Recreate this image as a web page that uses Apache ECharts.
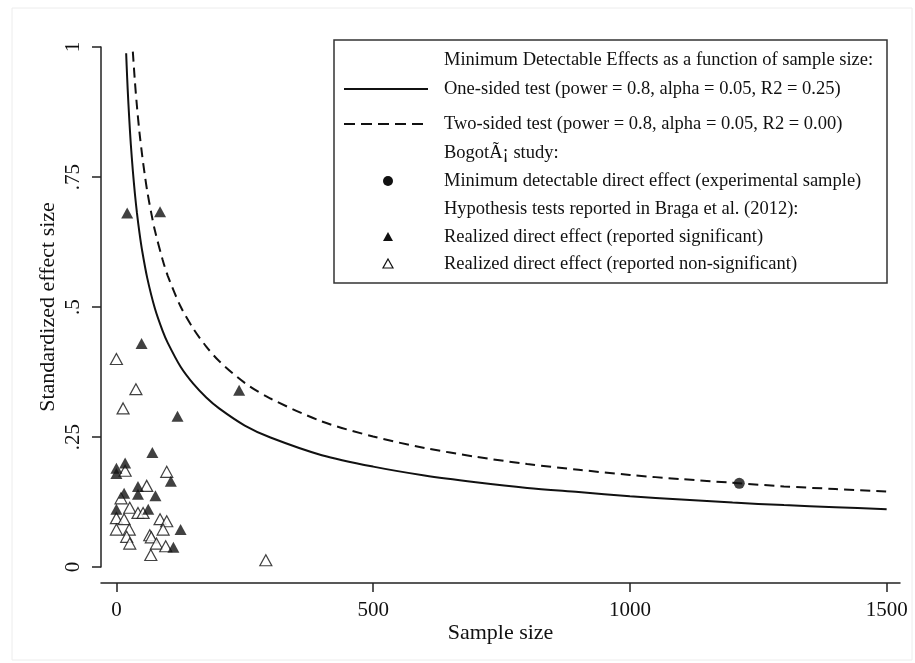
<!DOCTYPE html>
<html>
<head>
<meta charset="utf-8">
<script src="https://cdn.jsdelivr.net/npm/echarts@6/dist/echarts.min.js"></script>
<style>
  html, body { margin: 0; padding: 0; background: #fff; }
  #chart { width: 915px; height: 663px; }
</style>
</head>
<body>
<div id="chart"></div>
<script>
// MDE curves (sample size -> standardized effect)
const oneSidedN = [19, 20, 22, 25, 28, 32, 36, 40, 45, 50, 60, 75, 90, 100, 125, 150, 175, 200, 250, 300, 400, 500, 600, 700, 800, 900, 1000, 1100, 1200, 1300, 1400, 1500];
const oneSidedMde = [0.988, 0.963, 0.918, 0.862, 0.814, 0.762, 0.718, 0.681, 0.642, 0.609, 0.556, 0.497, 0.454, 0.431, 0.385, 0.352, 0.326, 0.305, 0.272, 0.249, 0.215, 0.193, 0.176, 0.163, 0.152, 0.144, 0.136, 0.130, 0.124, 0.119, 0.115, 0.111];
const twoSidedN = [32, 36, 40, 45, 50, 55, 60, 68, 75, 90, 100, 125, 150, 175, 200, 250, 300, 400, 500, 600, 700, 800, 900, 1000, 1100, 1200, 1300, 1400, 1500];
const twoSidedMde = [0.991, 0.934, 0.886, 0.835, 0.793, 0.756, 0.723, 0.680, 0.647, 0.591, 0.560, 0.501, 0.458, 0.424, 0.396, 0.354, 0.324, 0.280, 0.251, 0.229, 0.212, 0.198, 0.187, 0.177, 0.169, 0.162, 0.155, 0.150, 0.145];

// Bogota study point
const bogotaN = [1213];
const bogotaMde = [0.161];

// Braga et al. (2012) realized effects
const sigN = [0, 0, 17, 70, 106, 42, 42, 15, 76, 62, 0, 125, 111, 49, 119, 239, 21, 85];
const sigEffect = [0.19, 0.18, 0.20, 0.22, 0.165, 0.155, 0.14, 0.142, 0.137, 0.111, 0.111, 0.072, 0.038, 0.43, 0.29, 0.34, 0.681, 0.683];
const nonSigN = [0, 38, 13, 98, 17, 59, 9, 26, 42, 52, 0, 15, 85, 98, 0, 25, 91, 20, 65, 68, 26, 78, 96, 67, 291];
const nonSigEffect = [0.40, 0.342, 0.305, 0.183, 0.185, 0.156, 0.132, 0.114, 0.104, 0.104, 0.094, 0.092, 0.092, 0.088, 0.072, 0.072, 0.072, 0.058, 0.061, 0.057, 0.045, 0.045, 0.04, 0.023, 0.013];

const xTicks = [0, 500, 1000, 1500];
const yTickValues = [0, 0.25, 0.5, 0.75, 1];
const yTickLabels = ['0', '.25', '.5', '.75', '1'];

const legendLabels = [
  'Minimum Detectable Effects as a function of sample size:',
  'One-sided test (power = 0.8, alpha = 0.05, R2 = 0.25)',
  'Two-sided test (power = 0.8, alpha = 0.05, R2 = 0.00)',
  'Bogot\u00C3\u00A1 study:',
  'Minimum detectable direct effect (experimental sample)',
  'Hypothesis tests reported in Braga et al. (2012):',
  'Realized direct effect (reported significant)',
  'Realized direct effect (reported non-significant)'
];

const FONT = '"Liberation Serif", "DejaVu Serif", serif';
const INK = '#111';
const zip = (xs, ys) => xs.map((x, i) => [x, ys[i]]);

// legend box drawn by hand (Stata-style key with header rows)
const rowY = [60, 89, 124, 153, 181, 209, 237, 264];
const legendGraphic = [
  { type: 'rect', shape: { x: 334, y: 40, width: 553, height: 243 },
    style: { fill: '#fff', stroke: '#333', lineWidth: 1.5 }, z: 100 },
  { type: 'line', shape: { x1: 344, y1: rowY[1], x2: 428, y2: rowY[1] },
    style: { stroke: INK, lineWidth: 2 }, z: 101 },
  { type: 'line', shape: { x1: 344, y1: rowY[2], x2: 428, y2: rowY[2] },
    style: { stroke: INK, lineWidth: 2, lineDash: [11, 6] }, z: 101 },
  { type: 'circle', shape: { cx: 388, cy: rowY[4], r: 5 },
    style: { fill: INK }, z: 101 },
  { type: 'polygon', shape: { points: [[388, rowY[6] - 5], [393, rowY[6] + 4], [383, rowY[6] + 4]] },
    style: { fill: INK }, z: 101 },
  { type: 'polygon', shape: { points: [[388, rowY[7] - 5], [393, rowY[7] + 4], [383, rowY[7] + 4]] },
    style: { fill: '#fff', stroke: INK, lineWidth: 1.2 }, z: 101 }
].concat(legendLabels.map((t, i) => ({
  type: 'text', x: 444, y: rowY[i], z: 101,
  style: { text: t, font: '18.5px ' + FONT, fill: INK, textVerticalAlign: 'middle' }
})));

const chart = echarts.init(document.getElementById('chart'), null, { renderer: 'canvas' });
chart.setOption({
  backgroundColor: '#fff',
  animation: false,
  grid: { left: 101, right: 15, top: 47, bottom: 96, containLabel: false },
  xAxis: {
    type: 'value', min: -30, max: 1526, offset: 16,
    name: 'Sample size', nameLocation: 'middle', nameGap: 39, nameMoveOverlap: false,
    nameTextStyle: { fontFamily: FONT, fontSize: 22, color: INK },
    axisLine: { show: true, onZero: false, lineStyle: { color: '#222', width: 1.5 } },
    axisTick: { show: true, length: 9, lineStyle: { color: '#222', width: 1.5 }, customValues: xTicks },
    axisLabel: { fontFamily: FONT, fontSize: 21, color: INK, margin: 17, customValues: xTicks,
      formatter: v => String(v) },
    splitLine: { show: false }
  },
  yAxis: {
    type: 'value', min: 0, max: 1, interval: 0.25,
    name: 'Standardized effect size', nameLocation: 'middle', nameGap: 42, nameMoveOverlap: false,
    nameTextStyle: { fontFamily: FONT, fontSize: 22, color: INK },
    axisLine: { show: true, onZero: false, lineStyle: { color: '#222', width: 1.5 } },
    axisTick: { show: true, length: 9, lineStyle: { color: '#222', width: 1.5 } },
    axisLabel: {
      fontFamily: FONT, fontSize: 21, color: INK, rotate: 90, margin: 17,
      formatter: v => yTickLabels[yTickValues.indexOf(Math.round(v * 100) / 100)] ?? ''
    },
    splitLine: { show: false }
  },
  graphic: [
    { type: 'rect', shape: { x: 12, y: 8, width: 900, height: 652 },
      style: { fill: 'none', stroke: '#ececec', lineWidth: 1 }, z: -1 }
  ].concat(legendGraphic),
  series: [
    {
      name: 'One-sided', type: 'line', data: zip(oneSidedN, oneSidedMde),
      smooth: 0.3, showSymbol: false, clip: false,
      lineStyle: { color: INK, width: 2 }
    },
    {
      name: 'Two-sided', type: 'line', data: zip(twoSidedN, twoSidedMde),
      smooth: 0.3, showSymbol: false, clip: false,
      lineStyle: { color: INK, width: 2, type: [10, 6] }
    },
    {
      name: 'Non-significant', type: 'scatter', data: zip(nonSigN, nonSigEffect),
      symbol: 'triangle', symbolSize: [12, 11],
      itemStyle: { color: '#fff', borderColor: INK, borderWidth: 1.2 }
    },
    {
      name: 'Significant', type: 'scatter', data: zip(sigN, sigEffect),
      symbol: 'triangle', symbolSize: [12, 11],
      itemStyle: { color: INK }
    },
    {
      name: 'Bogota', type: 'scatter', data: zip(bogotaN, bogotaMde),
      symbol: 'circle', symbolSize: 11, z: 5,
      itemStyle: { color: INK }
    }
  ]
});
</script>
</body>
</html>
